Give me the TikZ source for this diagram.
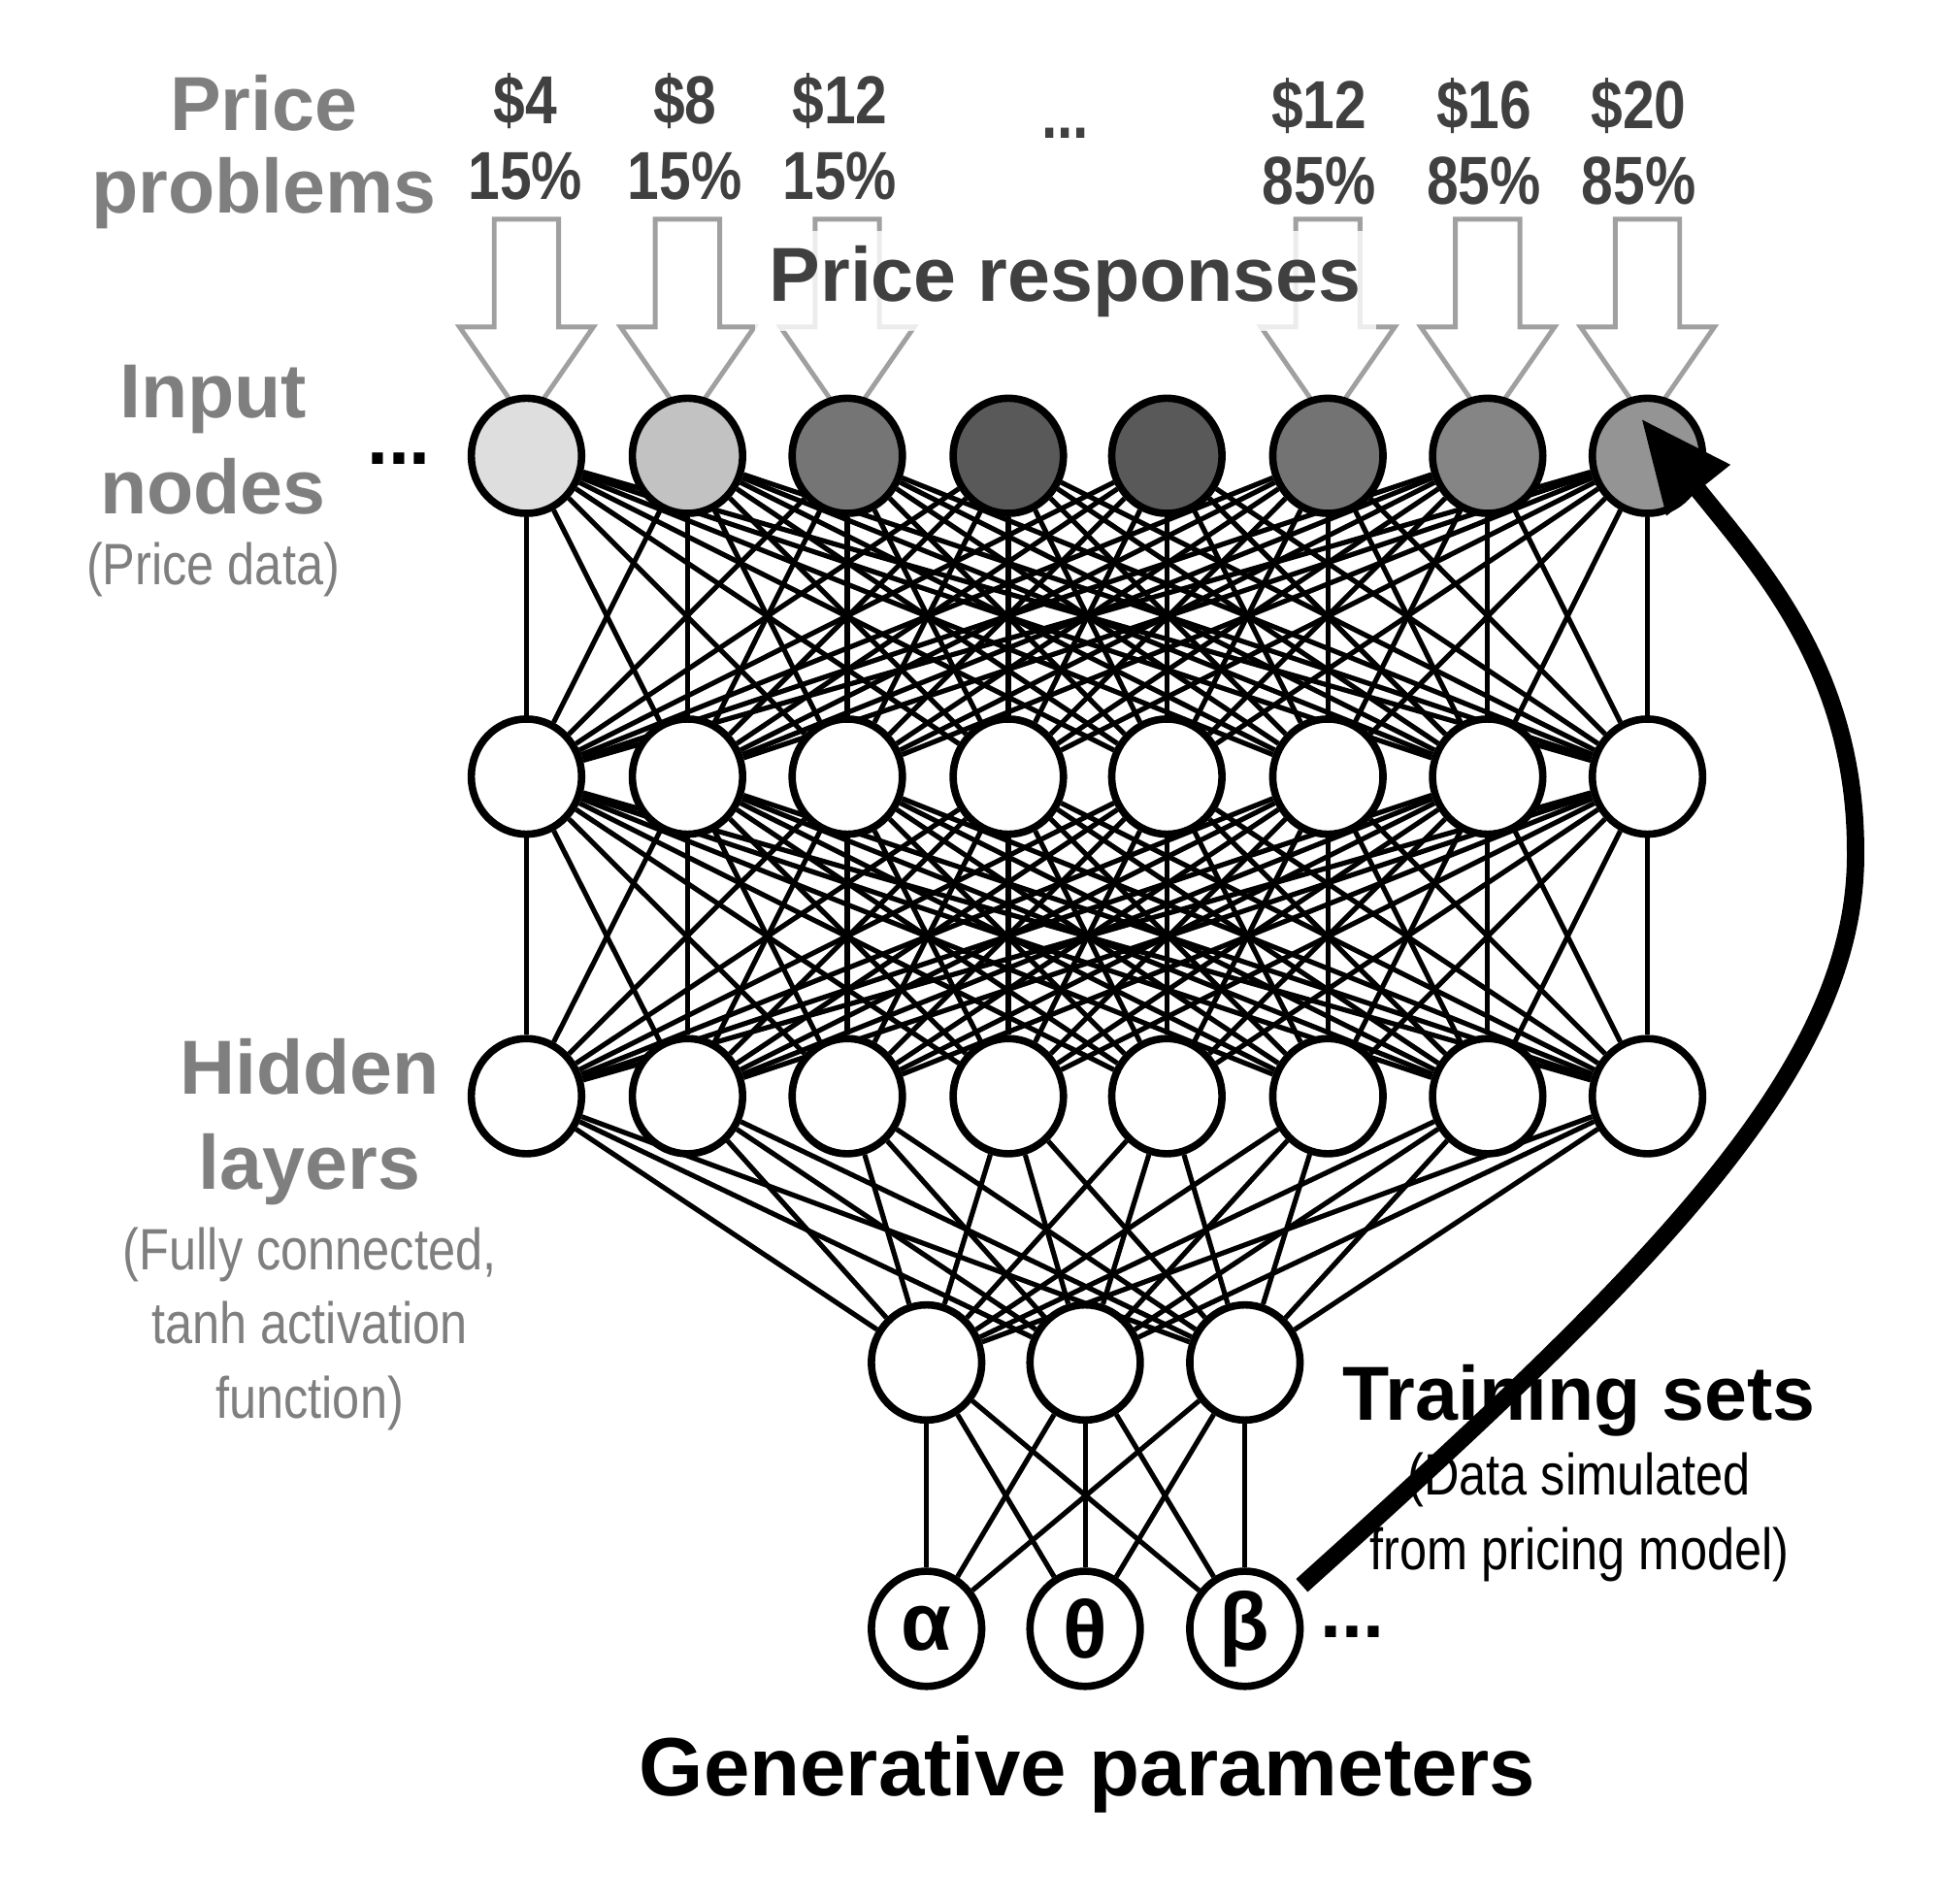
\documentclass[tikz,border=0pt]{standalone}
\usepackage{fontspec}
\setmainfont{Liberation Sans}
\newfontfamily\narrowfont{Liberation Sans}[FakeStretch=0.84]
\usetikzlibrary{shapes.geometric,arrows.meta,backgrounds}

\definecolor{labelgray}{HTML}{7F7F7F}
\definecolor{pricegray}{HTML}{404040}
\definecolor{feedgray}{HTML}{A0A0A0}

\tikzset{
  neuron/.style={ellipse, draw, line width=1.7pt, fill=white, inner sep=0pt,
    minimum width=8.9mm, minimum height=9.3mm},
  synapse/.style={line width=1.15pt},
  feed/.style={draw=feedgray, line width=1.1pt},
  title/.style={anchor=base, text=labelgray, font=\fontsize{17.6}{20}\bfseries},
  note/.style={anchor=base, text=labelgray, font=\narrowfont\fontsize{13.4}{16}\selectfont},
  price/.style={anchor=base, text=pricegray, font=\narrowfont\fontsize{15.6}{18}\bfseries},
}

\begin{document}
\begin{tikzpicture}[x=0.1mm, y=-0.1mm]
\useasboundingbox (0,0) rectangle (1567,1537);

% price problems on top
\foreach \x/\y/\p/\q [count=\i] in {424/100/\$4/15\%, 553/100/\$8/15\%, 678/100/\$12/15\%,
    1065/104/\$12/85\%, 1198/104/\$16/85\%, 1323/104/\$20/85\%}{
  \node[price] (cost\i) at (\x,\y) {\p};
  \node[price] (share\i) at (\x,\y+61) {\q};
}
\node[price] (costdots) at (860,112) {...};

% hollow arrows into the input nodes
\foreach \x in {425,555,684,1072,1201,1330}
  \draw[feed] (\x-26,177) -- (\x+26,177) -- (\x+26,264) -- (\x+54,264) -- (\x,342)
    -- (\x-54,264) -- (\x-26,264) -- cycle;
\node[anchor=base, fill=white, fill opacity=0.8, text opacity=1, text=pricegray,
  font=\fontsize{17.6}{20}\bfseries] (resp) at (860,243) {Price responses};

% layers
\foreach \x/\c [count=\i] in {425/13,555/24,684/54,814/65,942/65,1072/55,1201/48,1330/42}{
  \node[neuron, fill=black!\c] (in\i) at (\x,368) {};
  \node[neuron] (ha\i) at (\x,627) {};
  \node[neuron] (hb\i) at (\x,885) {};
}
\foreach \x/\g [count=\i] in {748/α,876/θ,1005/β}{
  \node[neuron] (hc\i) at (\x,1100) {};
  \node[neuron, font=\fontsize{18.8}{20}\bfseries] (par\i) at (\x,1315) {\g};
}

\begin{scope}[on background layer]
\foreach \i in {1,...,8}
  \foreach \j in {1,...,8}{
    \draw[synapse] (in\i) -- (ha\j);
    \draw[synapse] (ha\i) -- (hb\j);
  }
\foreach \i in {1,...,8}
  \foreach \j in {1,2,3}
    \draw[synapse] (hb\i) -- (hc\j);
\foreach \i in {1,2,3}
  \foreach \j in {1,2,3}
    \draw[synapse] (hc\i) -- (par\j);
\end{scope}

\node[anchor=base, font=\fontsize{17.6}{20}\bfseries] (indots) at (322,375) {...};
\node[anchor=base, font=\fontsize{17.6}{20}\bfseries] (pardots) at (1092,1322) {...};

% training sets arrow
\coordinate (trainfrom) at (1051,1280);
\coordinate (trainto) at (1325,338);
\draw[line width=4pt, -{Triangle[length=7.4mm, width=6.2mm]}] (trainfrom)
  .. controls (1340,1020) and (1500,860) .. (1498,687)
  .. controls (1498,540) and (1420,457) .. (trainto);

% labels
\node[title] (lblprice) at (213,105) {Price};
\node[title] (lblproblems) at (213,172) {problems};
\node[title] (lblinput) at (172,337) {Input};
\node[title] (lblnodes) at (172,415) {nodes};
\node[note] (lbldata) at (172,472) {(Price data)};
\node[title] (lblhidden) at (250,883) {Hidden};
\node[title] (lbllayers) at (250,960) {layers};
\node[note] (lblfully) at (250,1025) {(Fully connected,};
\node[note] (lbltanh) at (250,1085) {tanh activation};
\node[note] (lblfunc) at (250,1145) {function)};

\node[anchor=base, font=\fontsize{17.6}{20}\bfseries] (lbltrain) at (1275,1147) {Training sets};
\node[anchor=base, font=\narrowfont\fontsize{13.4}{16}\selectfont] (lblsim) at (1275,1207) {(Data simulated};
\node[anchor=base, font=\narrowfont\fontsize{13.4}{16}\selectfont] (lblmodel) at (1275,1267) {from pricing model)};
\node[anchor=base, font=\fontsize{19}{22}\bfseries] (lblgen) at (878,1450) {Generative parameters};
\end{tikzpicture}
\end{document}
